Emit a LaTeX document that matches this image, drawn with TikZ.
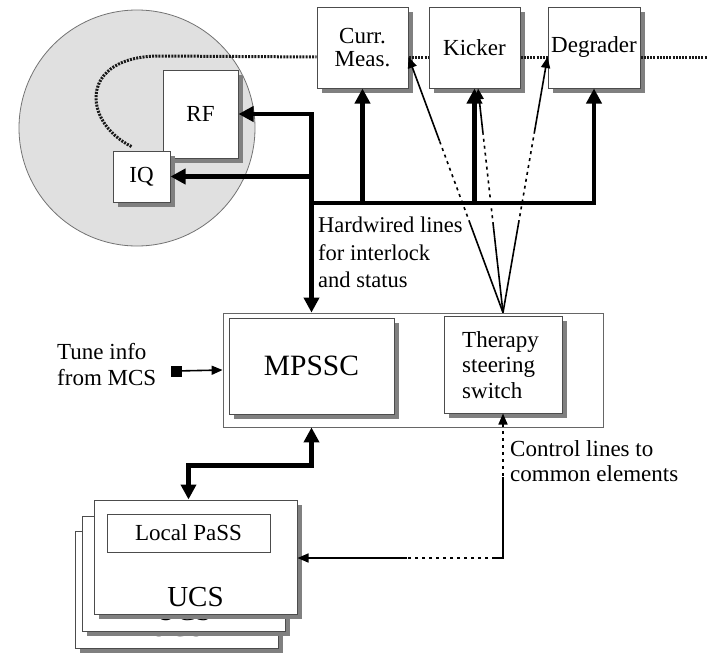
\documentclass[tikz,border=0pt]{standalone}
\usepackage{fontspec}
\setmainfont{Liberation Serif}
\usetikzlibrary{arrows.meta,calc,shadows}

\tikzset{
  bighead/.tip={Triangle[width=15pt,length=15pt]},
  smallhead/.tip={Triangle[width=9pt,length=11pt]},
}

\begin{document}
\begin{tikzpicture}[x=1pt,y=-1pt,
  lbl/.style={font=\fontsize{23}{25}\selectfont, inner sep=0pt},
  biglbl/.style={font=\fontsize{29}{32}\selectfont, inner sep=0pt},
  box/.style={draw=black!70, line width=1pt, fill=white, inner sep=0pt,
    font=\fontsize{23}{24}\selectfont,
    drop shadow={shadow xshift=4.5pt, shadow yshift=-4.5pt, fill=black!50, opacity=1}},
  bus/.style={line width=4.5pt, line join=miter},
  wire/.style={line width=1.6pt},
  dots/.style={wire, dash pattern=on 3pt off 4pt},
  beam/.style={line width=3pt, black!90, dash pattern=on 2pt off 1.2pt},
]
\useasboundingbox (0,0) rectangle (707,653);

% accelerator ring
\node[circle, draw=black!55, line width=0.8pt, fill=black!12, minimum size=236pt, inner sep=0pt] (ring) at (137,128) {};

% machine elements
\node[box, minimum width=75pt, minimum height=88pt] (rf) at (200.5,114) {RF};
\node[box, minimum width=57pt, minimum height=51pt] (iq) at (141.5,176.5) {IQ};
\node[box, minimum width=91pt, minimum height=81pt, align=center, font=\fontsize{23}{23}\selectfont] (curr) at (362.5,47.5) {Curr.\\Meas.};
\node[box, minimum width=91pt, minimum height=81pt] (kick) at (474.5,47.5) {Kicker};
\node[box, minimum width=92pt, minimum height=81pt] (degr) at (594,47.5) {Degrader};

% beam line
\coordinate (b0) at ([xshift=-10pt,yshift=4pt]iq.north);
\coordinate (beamend) at (707,57);
\draw[beam] (b0) .. controls (82,122) and (78,56) .. (160,56) -- ([yshift=-9.5pt]curr.west);
\draw[beam] ([yshift=-9.5pt]curr.east) -- ([yshift=-9.5pt]kick.west);
\draw[beam] ([yshift=-9.5pt]kick.east) -- ([yshift=-9.5pt]degr.west);
\draw[beam] ([yshift=-9.5pt]degr.east) -- (beamend);

% MPSSC crate
\node[draw=black!60, line width=0.8pt, minimum width=380pt, minimum height=114pt, inner sep=0pt] (outer) at (413,370) {};
\node[box, minimum width=165pt, minimum height=96pt, font=\fontsize{29.5}{32}\selectfont] (mpssc) at (311.5,366) {MPSSC};
\node[box, minimum width=118pt, minimum height=97pt] (ther) at (503,364.5) {};
\node[lbl, anchor=north west, align=left, font=\fontsize{23}{25.5}\selectfont] (therlbl) at (462,331) {Therapy\\steering\\switch};

% UCS stack
\node[box, minimum width=203pt, minimum height=117pt] (ucsc) at (176.5,589.5) {};
\node[biglbl] (ucsclbl) at ([yshift=-38pt]ucsc.center) {UCS};
\node[box, minimum width=203pt, minimum height=115pt] (ucsb) at (183.5,573.5) {};
\node[biglbl] (ucsblbl) at ([yshift=-38pt]ucsb.center) {UCS};
\node[box, minimum width=203pt, minimum height=114pt] (ucsa) at (195.5,557) {};
\node[biglbl] (ucsalbl) at ([yshift=-40.5pt]ucsa.center) {UCS};
\node[draw=black!70, line width=0.8pt, fill=white, minimum width=163pt, minimum height=38pt, lbl] (pass) at (188.5,533) {Local PaSS};

% labels
\node[lbl, anchor=north west, align=left, font=\fontsize{22.5}{27.5}\selectfont] (hw) at (318,217) {Hardwired lines\\for interlock\\and status};
\node[lbl, anchor=north west, align=left, font=\fontsize{23}{26}\selectfont] (tune) at (57,343) {Tune info\\from MCS};
\node[lbl, anchor=north west, align=left, font=\fontsize{23}{25}\selectfont] (ctl) at (510,440) {Control lines to\\common elements};

% tune info input
\node[fill=black, minimum size=11pt, inner sep=0pt] (sq) at (176,371) {};
\draw[wire, -smallhead] (sq) -- (outer.west);

% hardwired interlock bus
\coordinate (t1) at (mpssc.north |- rf.east);
\coordinate (t2) at (mpssc.north |- iq.east);
\coordinate (t3) at (mpssc.north |- 0,203);
\coordinate (t4) at (degr.south |- t3);
\draw[bus, bighead-bighead] (rf.east) -- (t1) -- (mpssc.north |- outer.north);
\draw[bus, -bighead] (t2) -- (iq.east);
\draw[bus, -bighead] (t3) -- (t4) -- (degr.south);
\draw[bus, -bighead] (curr.south |- t3) -- (curr.south);
\draw[bus, -bighead] (kick.south |- t3) -- (kick.south);

% steering switch lines
\coordinate (sw) at (ther.north |- outer.north);
\coordinate (e1) at ([yshift=-9.5pt]curr.east);
\coordinate (e2) at ([xshift=3.5pt]kick.south);
\coordinate (e3) at ([yshift=-9.5pt]degr.west);
\foreach \e/\p/\q in {e1/0.35/0.67, e2/0.39/0.8, e3/0.35/0.7} {
  \draw[wire] (sw) -- ($(sw)!\p!(\e)$);
  \draw[dots] ($(sw)!\p!(\e)$) -- ($(sw)!\q!(\e)$);
  \draw[wire, -smallhead] ($(sw)!\q!(\e)$) -- (\e);
}

% control lines to common elements
\coordinate (cc) at (ther.south |- 0,558);
\coordinate (c1) at ($(ther.south)!0.44!(cc)$);
\coordinate (c2) at ([xshift=-8pt]cc);
\coordinate (c3) at (407,558);
\draw[dots, smallhead-] (ther.south) -- (c1);
\draw[wire] (c1) -- (cc) -- (c2);
\draw[dots] (c2) -- (c3);
\draw[wire, -smallhead] (c3) -- (ucsa.east |- cc);

% MPSSC to UCS link
\draw[bus, bighead-bighead] (mpssc.south |- outer.south) -- ++(0,38) -| (pass.north |- ucsa.north);
\end{tikzpicture}
\end{document}
